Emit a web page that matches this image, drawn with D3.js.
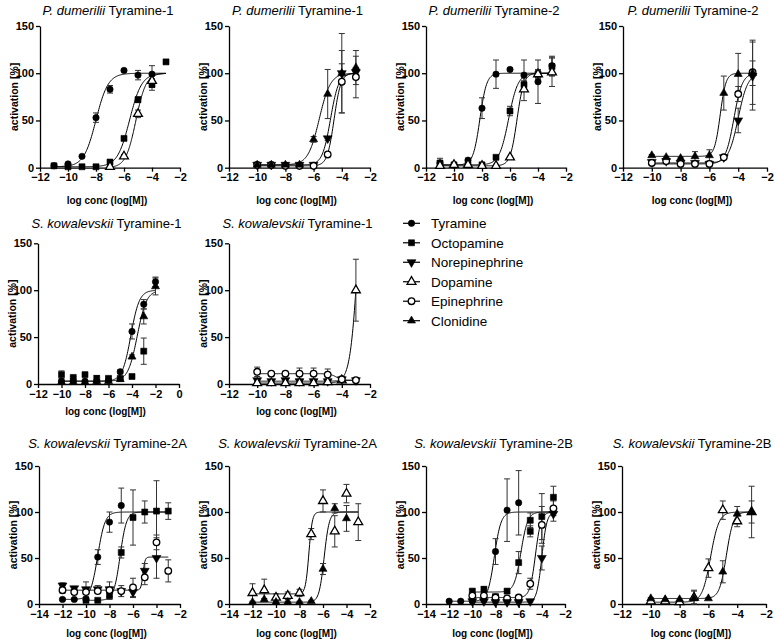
<!DOCTYPE html>
<html>
<head>
<meta charset="utf-8">
<script src="https://d3js.org/d3.v7.min.js"></script>
<style>
  body { margin: 0; background: #fff; }
  svg { font-family: "Liberation Sans", Arial, sans-serif; }
  .axis path, .axis line { stroke: #000; stroke-width: 1.3px; }
  .axis text { font-size: 11px; font-weight: bold; fill: #000; font-family: "Liberation Sans", Arial, sans-serif; }
  .title { font-size: 13px; }
  .xlabel { font-size: 10px; font-weight: bold; }
  .ylabel { font-size: 10.5px; font-weight: bold; }
  .fit { fill: none; stroke: #000; stroke-width: 1px; }
  .err { stroke: #333; stroke-width: 1px; }
  .legend text { font-size: 13.5px; }
</style>
</head>
<body>
<svg id="chart" width="778" height="640"></svg>
<script>
// agonists, in legend order
const agonists = ["Tyramine", "Octopamine", "Norepinephrine", "Dopamine", "Epinephrine", "Clonidine"];

// panel titles: [species, receptor]
const titles = [
  ["P. dumerilii", "Tyramine-1"], ["P. dumerilii", "Tyramine-1"],
  ["P. dumerilii", "Tyramine-2"], ["P. dumerilii", "Tyramine-2"],
  ["S. kowalevskii", "Tyramine-1"], ["S. kowalevskii", "Tyramine-1"],
  ["S. kowalevskii", "Tyramine-2A"], ["S. kowalevskii", "Tyramine-2A"],
  ["S. kowalevskii", "Tyramine-2B"], ["S. kowalevskii", "Tyramine-2B"]
];

// x axis extent (log M) per panel
const xDomains = [[-12, -2], [-12, -2], [-12, -2], [-12, -2], [-12, 0], [-12, -2],
                  [-14, -2], [-14, -2], [-14, -2], [-12, -2]];
const yTicks = [0, 50, 100, 150];

// series: x = log conc, y = mean activation %, e = error, fit = [bottom, top, logEC50, hill]
const pdTyr1a = [
  {drug: "Tyramine",   x: [-11,-10,-9,-8,-7,-6,-5,-4], y: [2,4,12,53,83,103,98,99], e: [1,1,1,5,4,1,5,9], fit: [1,100,-8.0,1]},
  {drug: "Octopamine", x: [-11,-10,-9,-8,-7,-6,-5,-4,-3], y: [2,1,1,1,6,31,72,88,112], e: [1,1,1,1,2,2,3,6,0], fit: [1,100,-5.6,1]},
  {drug: "Dopamine",   x: [-7,-6,-5,-4], y: [1,12,57,92], e: [1,2,4,7], fit: [0,100,-5.15,1.2]}
];
const pdTyr1b = [
  {drug: "Norepinephrine", x: [-10,-9,-8,-7,-6,-5,-4,-3], y: [3,3,3,3,3,31,100,101], e: [1,1,1,1,1,2,10,5], fit: [3,100,-4.8,1.5]},
  {drug: "Epinephrine",    x: [-10,-9,-8,-7,-6,-5,-4,-3], y: [3,3,2,2,2,14,91,96], e: [1,1,1,1,1,2,33,22], fit: [2,100,-4.55,1.8]},
  {drug: "Clonidine",      x: [-10,-9,-8,-7,-6,-5,-4,-3], y: [3,3,3,3,30,78,100,106], e: [1,1,1,1,3,26,42,18], fit: [3,100,-5.6,1.1]}
];
const pdTyr2a = [
  {drug: "Tyramine",   x: [-11,-10,-9,-8,-7,-6,-5,-4,-3], y: [5,3,8,63,99,104,98,91,108], e: [5,1,2,11,15,1,16,23,10], fit: [3,100,-8.15,1.8]},
  {drug: "Octopamine", x: [-11,-10,-9,-8,-7,-6,-5,-4,-3], y: [5,3,3,3,11,60,88,99,107], e: [2,1,1,1,2,5,4,5,10], fit: [3,100,-6.1,1.3]},
  {drug: "Dopamine",   x: [-11,-10,-9,-8,-7,-6,-5,-4,-3], y: [2,3,3,2,2,11,83,99,101], e: [1,1,1,1,1,1,12,4,15], fit: [2,100,-5.5,1.8]}
];
const pdTyr2b = [
  {drug: "Norepinephrine", x: [-10,-9,-8,-7,-6,-5,-4,-3], y: [6,7,5,5,4,11,50,97], e: [1,1,1,1,1,2,13,36], fit: [5,100,-4.0,1.3]},
  {drug: "Epinephrine",    x: [-10,-9,-8,-7,-6,-5,-4,-3], y: [5,7,4,4,4,11,78,101], e: [1,1,1,1,1,2,8,34], fit: [4,100,-4.3,1.5]},
  {drug: "Clonidine",      x: [-10,-9,-8,-7,-6,-5,-4,-3], y: [13,11,10,12,13,79,99,100], e: [1,1,1,5,6,18,22,13], fit: [12,100,-5.25,2.2]}
];
const skTyr1a = [
  {drug: "Tyramine",   x: [-10,-9,-8,-7,-6,-5,-4,-3,-2], y: [3,3,3,3,4,13,56,85,109], e: [1,1,1,1,1,2,8,5,5], fit: [3,100,-4.1,1.2]},
  {drug: "Octopamine", x: [-10,-9,-8,-7,-6,-5,-4,-3], y: [10,7,10,6,6,6,8,35], e: [4,1,2,3,2,1,1,14], fit: null},
  {drug: "Clonidine",  x: [-10,-9,-8,-7,-6,-5,-4,-3,-2], y: [2,2,2,3,3,5,29,72,104], e: [1,1,1,1,1,1,2,8,9], fit: [3,100,-3.55,1.1]}
];
const skTyr1b = [
  {drug: "Norepinephrine", x: [-10,-9,-8,-7,-6,-5,-4,-3], y: [4,3,4,3,3,3,5,4], e: [1,1,1,1,1,1,1,1], fit: [3,4,-4,1]},
  {drug: "Dopamine",       x: [-10,-9,-8,-7,-6,-5,-4,-3], y: [1,1,1,1,1,2,4,100], e: [1,1,1,1,1,1,1,33], fit: [1,300,-2.8,1.5]},
  {drug: "Epinephrine",    x: [-10,-9,-8,-7,-6,-5,-4,-3], y: [13,11,11,11,11,10,5,4], e: [5,1,1,6,6,6,1,1], fit: [11,4,-4.4,2]}
];
const skTyr2Aa = [
  {drug: "Tyramine",       x: [-12,-11,-10,-9,-8,-7], y: [5,5,5,51,89,107], e: [1,1,1,8,11,19], fit: [5,100,-9.0,1.4]},
  {drug: "Octopamine",     x: [-10,-9,-8,-7,-6,-5,-4,-3], y: [4,4,9,56,94,100,101,101], e: [1,1,4,6,30,12,33,9], fit: [4,100,-7.1,1.6]},
  {drug: "Norepinephrine", x: [-12,-11,-10,-9,-8,-7,-6,-5,-4], y: [20,17,16,16,16,14,13,36,50], e: [3,2,8,4,8,6,6,8,22], fit: [15,51,-5.15,5]},
  {drug: "Epinephrine",    x: [-12,-11,-10,-9,-8,-7,-6,-5,-4,-3], y: [15,13,13,14,15,14,18,29,67,36], e: [3,2,2,2,2,2,10,8,8,12], fit: null}
];
const skTyr2Ab = [
  {drug: "Dopamine",  x: [-12,-11,-10,-9,-8,-7,-6,-5,-4,-3], y: [12,15,7,9,12,76,112,79,120,89], e: [10,12,4,4,4,6,12,17,10,20], fit: [11,100,-7.2,3]},
  {drug: "Clonidine", x: [-12,-11,-10,-9,-8,-7,-6,-5,-4], y: [2,5,2,2,2,3,38,104,93], e: [1,1,1,1,1,1,6,5,14], fit: [2,100,-5.9,2]}
];
const skTyr2Ba = [
  {drug: "Tyramine",       x: [-12,-11,-10,-9,-8,-7,-6], y: [3,3,3,5,57,102,110], e: [1,1,1,1,14,34,35], fit: [3,100,-8.1,1.5]},
  {drug: "Octopamine",     x: [-10,-9,-8,-7,-6,-5,-5,-4,-3], y: [14,16,8,14,45,91,79,95,116], e: [2,3,2,2,12,8,6,25,12], fit: [13,100,-5.8,1.5]},
  {drug: "Epinephrine",    x: [-10,-9,-8,-7,-6,-5,-4,-3], y: [9,9,7,6,7,22,86,104], e: [1,1,1,1,1,6,20,8], fit: [7,100,-4.55,1.8]},
  {drug: "Norepinephrine", x: [-10,-9,-8,-7,-6,-5,-4,-3], y: [3,3,2,2,2,3,50,98], e: [1,1,1,1,1,1,13,8], fit: [2,100,-4.0,2]}
];
const skTyr2Bb = [
  {drug: "Dopamine",  x: [-10,-9,-8,-7,-6,-5,-4,-3], y: [3,3,2,7,39,102,90,100], e: [1,1,1,8,10,10,6,28], fit: [2,100,-5.85,1.5]},
  {drug: "Clonidine", x: [-10,-9,-8,-7,-6,-5,-4,-3], y: [6,5,5,6,6,35,98,100], e: [1,1,1,8,1,12,8,12], fit: [6,100,-4.75,1.8]}
];

const panelData = [pdTyr1a, pdTyr1b, pdTyr2a, pdTyr2b, skTyr1a, skTyr1b, skTyr2Aa, skTyr2Ab, skTyr2Ba, skTyr2Bb];

// layout
const rows = [
  {t: 26, b: 167.7, title: 14.5, xlab: 203.5},
  {t: 243.3, b: 384, title: 227.5, xlab: 415},
  {t: 466, b: 604, title: 448, xlab: 636.5}
];
const frames = [
  {row: 0, l: 40, r: 180}, {row: 0, l: 229, r: 370}, {row: 0, l: 426, r: 566}, {row: 0, l: 623, r: 767},
  {row: 1, l: 38, r: 179}, {row: 1, l: 229, r: 370},
  {row: 2, l: 39, r: 180}, {row: 2, l: 229, r: 370}, {row: 2, l: 426, r: 565}, {row: 2, l: 622, r: 766}
];

const markers = {
  Tyramine:       {type: d3.symbolCircle, size: 32, fill: "#000", rot: 0},
  Octopamine:     {type: d3.symbolSquare, size: 36, fill: "#000", rot: 0},
  Norepinephrine: {type: d3.symbolTriangle, size: 34, fill: "#000", rot: 180},
  Dopamine:       {type: d3.symbolTriangle, size: 34, fill: "#fff", rot: 0},
  Epinephrine:    {type: d3.symbolCircle, size: 34, fill: "#fff", rot: 0},
  Clonidine:      {type: d3.symbolTriangle, size: 28, fill: "#000", rot: 0}
};

const svg = d3.select("#chart");

function hill(p, x) {
  return p[0] + (p[1] - p[0]) / (1 + Math.pow(10, (p[2] - x) * p[3]));
}

function drawMarker(g, drug, cx, cy) {
  const m = markers[drug];
  g.append("path")
    .attr("d", d3.symbol().type(m.type).size(m.size)())
    .attr("transform", `translate(${cx},${cy}) rotate(${m.rot})`)
    .attr("fill", m.fill)
    .attr("stroke", "#000")
    .attr("stroke-width", m.fill === "#fff" ? 1.3 : 0.6);
}

function drawPanel(i) {
  const f = frames[i], row = rows[f.row], dom = xDomains[i], series = panelData[i];
  const g = svg.append("g");
  const x = d3.scaleLinear().domain(dom).range([f.l, f.r]);
  const y = d3.scaleLinear().domain([0, 150]).range([row.b, row.t]);

  g.append("g").attr("class", "axis")
    .attr("transform", `translate(0,${row.b})`)
    .call(d3.axisBottom(x).tickValues(d3.range(dom[0], dom[1] + 1, 2)).tickSize(4).tickSizeOuter(0).tickPadding(2));
  g.append("g").attr("class", "axis")
    .attr("transform", `translate(${f.l},0)`)
    .call(d3.axisLeft(y).tickValues(yTicks).tickSize(4).tickSizeOuter(0).tickPadding(2));

  const tt = g.append("text").attr("class", "title")
    .attr("x", (f.l + f.r) / 2 - 2).attr("y", row.title).attr("text-anchor", "middle");
  tt.append("tspan").style("font-style", "italic").text(titles[i][0]);
  tt.append("tspan").text(" " + titles[i][1]);

  g.append("text").attr("class", "xlabel")
    .attr("x", (f.l + f.r) / 2 - 3).attr("y", row.xlab).attr("text-anchor", "middle")
    .text("log conc (log[M])");
  g.append("text").attr("class", "ylabel")
    .attr("transform", `translate(${f.l - 26},${(row.t + row.b) / 2}) rotate(-90)`)
    .attr("text-anchor", "middle").attr("dy", "0.35em")
    .text("activation [%]");

  // fitted curves: from the series' first dose to the panel's last dose
  const xmax = d3.max(series, s => d3.max(s.x));
  const line = d3.line().x(d => x(d[0])).y(d => y(d[1]));
  series.filter(s => s.fit).forEach(s => {
    const xmin = d3.min(s.x);
    const pts = d3.range(0, 201).map(k => {
      const xv = xmin + (xmax - xmin) * k / 200;
      return [xv, hill(s.fit, xv)];
    });
    g.append("path").attr("class", "fit").attr("d", line(pts));
  });

  // error bars
  series.forEach(s => {
    s.x.forEach((xv, k) => {
      const cx = x(xv), y1 = y(s.y[k] + s.e[k]), y2 = y(Math.max(0, s.y[k] - s.e[k]));
      g.append("line").attr("class", "err").attr("x1", cx).attr("x2", cx).attr("y1", y1).attr("y2", y2);
      [y1, y2].forEach(yy => g.append("line").attr("class", "err")
        .attr("x1", cx - 3).attr("x2", cx + 3).attr("y1", yy).attr("y2", yy));
    });
  });

  // markers
  series.forEach(s => {
    s.x.forEach((xv, k) => drawMarker(g, s.drug, x(xv), y(s.y[k])));
  });
}

panelData.forEach((d, i) => drawPanel(i));

// legend
const lg = svg.append("g").attr("class", "legend");
const ly = d3.scalePoint().domain(agonists).range([223.3, 320.7]);
agonists.forEach(a => {
  lg.append("line").attr("x1", 403).attr("x2", 420).attr("y1", ly(a)).attr("y2", ly(a))
    .attr("stroke", "#000").attr("stroke-width", 1.2);
  drawMarker(lg, a, 411.5, ly(a));
  lg.append("text").attr("x", 431).attr("y", ly(a)).attr("dy", "0.36em").text(a);
});
</script>
</body>
</html>
